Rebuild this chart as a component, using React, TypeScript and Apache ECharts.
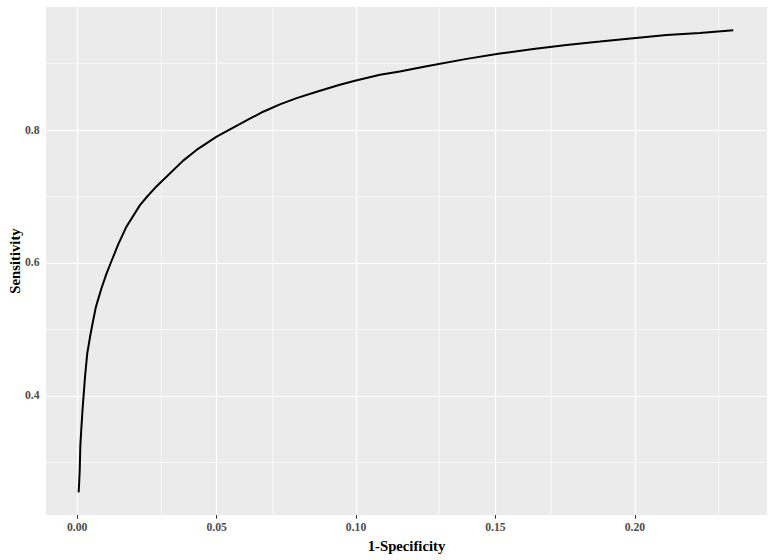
import React, { useEffect, useRef } from "react";
import * as echarts from "echarts";

// ROC curve points
const fpr = [
  0.0005, 0.0007, 0.0009, 0.0011, 0.0014, 0.0019, 0.0028, 0.0036, 0.0046, 0.0055,
  0.0067, 0.0087, 0.0105, 0.0123, 0.0147, 0.0177, 0.0225, 0.0251, 0.0285, 0.0321,
  0.038, 0.0428, 0.05, 0.0548, 0.0619, 0.0667, 0.0727, 0.0787, 0.0859, 0.0942,
  0.0996, 0.1086, 0.1157, 0.1253, 0.1397, 0.1516, 0.1636, 0.1755, 0.1875, 0.1994,
  0.2114, 0.2233, 0.2353,
];
const sensitivity = [
  0.255, 0.27, 0.289, 0.324, 0.346, 0.379, 0.429, 0.464, 0.489, 0.509,
  0.534, 0.562, 0.584, 0.603, 0.628, 0.655, 0.687, 0.7, 0.7155, 0.73,
  0.754, 0.77, 0.79, 0.801, 0.817, 0.8275, 0.8385, 0.848, 0.8576, 0.868,
  0.874, 0.883, 0.888, 0.896, 0.907, 0.915, 0.922, 0.928, 0.933, 0.938,
  0.943, 0.946, 0.95,
];

const xMajorTicks = [0.0, 0.05, 0.1, 0.15, 0.2];
const xMinorTicks = [0.025, 0.075, 0.125, 0.175, 0.225];
const yMajorTicks = [0.4, 0.6, 0.8];
const yMinorTicks = [0.3, 0.5, 0.7, 0.9];

const xRange = [-0.0112, 0.2474];
const yRange = [0.221, 0.985];

const FONT = '"Liberation Serif", "Times New Roman", serif';

export default function App() {
  const ref = useRef<HTMLDivElement>(null);

  useEffect(() => {
    if (!ref.current) return;
    const chart = echarts.init(ref.current, null, { renderer: "svg" });

    const grid = (v: number, axis: "x" | "y", w: number) =>
      axis === "x"
        ? { xAxis: v, lineStyle: { color: "#FFFFFF", width: w, type: "solid" as const } }
        : { yAxis: v, lineStyle: { color: "#FFFFFF", width: w, type: "solid" as const } };

    const markData = [
      ...xMinorTicks.map((v) => grid(v, "x", 0.6)),
      ...yMinorTicks.map((v) => grid(v, "y", 0.6)),
      ...xMajorTicks.map((v) => grid(v, "x", 1.2)),
      ...yMajorTicks.map((v) => grid(v, "y", 1.2)),
    ];

    chart.setOption({
      animation: false,
      grid: {
        left: 46,
        right: 8,
        top: 7,
        bottom: 45,
        containLabel: false,
        outerBoundsMode: "none",
        show: true,
        backgroundColor: "#EBEBEB",
        borderWidth: 0,
      },
      xAxis: {
        type: "value",
        min: xRange[0],
        max: xRange[1],
        name: "1-Specificity",
        nameLocation: "middle",
        nameGap: 23,
        nameMoveOverlap: false,
        nameTextStyle: { fontFamily: FONT, fontWeight: "bold", fontSize: 14.7, color: "#000000" },
        axisLine: { show: false },
        splitLine: { show: false },
        axisTick: { show: true, length: 3.7, customValues: xMajorTicks, lineStyle: { color: "#333333", width: 1 } },
        axisLabel: {
          customValues: xMajorTicks,
          margin: 6.5,
          fontFamily: FONT,
          fontWeight: "bold",
          fontSize: 11.7,
          color: "#4D4D4D",
          formatter: (v: number) => v.toFixed(2),
        },
      },
      yAxis: {
        type: "value",
        min: yRange[0],
        max: yRange[1],
        name: "Sensitivity",
        nameLocation: "middle",
        nameGap: 24,
        nameMoveOverlap: false,
        nameTextStyle: { fontFamily: FONT, fontWeight: "bold", fontSize: 14.7, color: "#000000" },
        axisLine: { show: false },
        splitLine: { show: false },
        axisTick: { show: true, length: 3.7, customValues: yMajorTicks, lineStyle: { color: "#333333", width: 1 } },
        axisLabel: {
          customValues: yMajorTicks,
          margin: 6.5,
          fontFamily: FONT,
          fontWeight: "bold",
          fontSize: 11.7,
          color: "#4D4D4D",
          formatter: (v: number) => v.toFixed(1),
        },
      },
      series: [
        {
          type: "line",
          z: 3,
          data: fpr.map((x, i) => [x, sensitivity[i]]),
          showSymbol: false,
          symbol: "none",
          lineStyle: { color: "#000000", width: 2 },
          markLine: {
            z: 1,
            silent: true,
            symbol: "none",
            label: { show: false },
            emphasis: { disabled: true },
            data: markData,
          },
        },
      ],
    });

    return () => chart.dispose();
  }, []);

  return (
    <div
      ref={ref}
      style={{ position: "absolute", left: 0, top: 0, width: 775, height: 560 }}
    />
  );
}
